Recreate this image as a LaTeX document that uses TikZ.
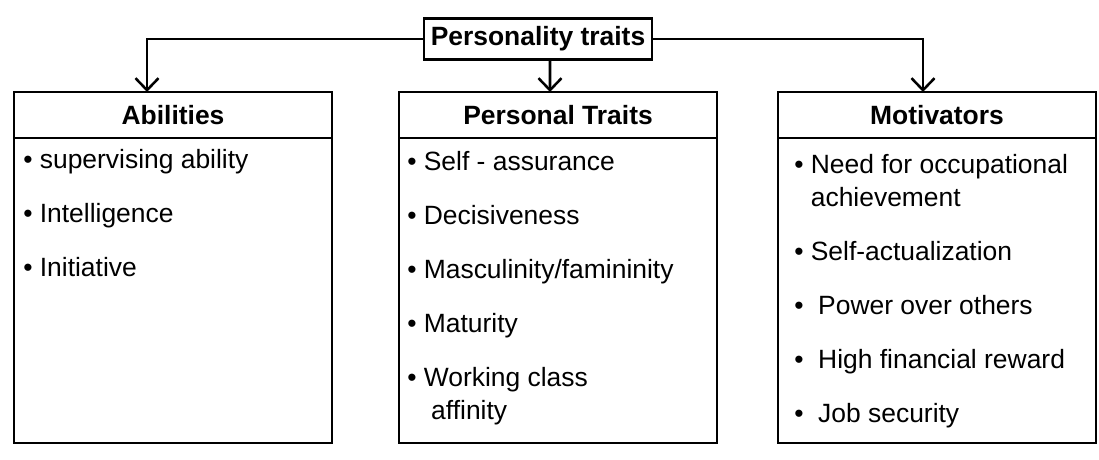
\documentclass[tikz,border=0pt]{standalone}
\usepackage{fontspec}
\setmainfont{Liberation Sans}
\usetikzlibrary{arrows.meta}
\begin{document}
\begin{tikzpicture}[
    font=\fontsize{18.8}{23.5}\selectfont,
    frame/.style={shape=rectangle, draw, line width=1.8pt, inner sep=0, outer sep=0, minimum width=7.95cm},
    headbox/.style={frame, minimum height=1.15cm, font=\fontsize{18.8}{23.5}\selectfont\bfseries},
    bodybox/.style={frame, minimum height=7.625cm},
    itemtext/.style={anchor=north west, align=left, inner sep=0},
    wire/.style={line width=1.8pt, -{Straight Barb[length=0.3cm, width=0.575cm]}}]
  % Boxes, lists and wires:
  \useasboundingbox (0, 0) rectangle (27.475, 11.475);
  \node[headbox, minimum width=5.7cm, minimum height=1.025cm] (traits) at (13.45, 10.5) {Personality traits};
  \node[headbox] (abilhead) at (4.325, 8.6) {Abilities};
  \node[bodybox, anchor=north] (abilbody) at (abilhead.south) {};
  \node[headbox] (pershead) at (13.95, 8.6) {Personal Traits};
  \node[bodybox, anchor=north] (persbody) at (pershead.south) {};
  \node[headbox] (motihead) at (23.425, 8.6) {Motivators};
  \node[bodybox, anchor=north] (motibody) at (motihead.south) {};
  \node[itemtext] (abilitems) at ([xshift=0.225cm, yshift=-0.175cm]abilbody.north west)
    {\strut• supervising ability\\[15pt]• Intelligence\\[15pt]• Initiative};
  \node[itemtext] (persitems) at ([xshift=0.2cm, yshift=-0.225cm]persbody.north west)
    {\strut• Self - assurance\\[15pt]• Decisiveness\\[15pt]• Masculinity/famininity\\[15pt]• Maturity\\[15pt]• Working class\\ \phantom{•\ \ }affinity};
  \node[itemtext] (motiitems) at ([xshift=0.4cm, yshift=-0.3cm]motibody.north west)
    {\strut• Need for occupational\\ \phantom{• }achievement\\[15pt]• Self-actualization\\[15pt]•\ \ Power over others\\[15pt]•\ \ High financial reward\\[15pt]•\ \ Job security};
  \draw[wire] (traits.west) -| ([xshift=-0.65cm]abilhead.north);
  \draw[wire] ([xshift=0.3cm]traits.south) -- ([xshift=-0.2cm]pershead.north);
  \draw[wire] (traits.east) -| ([xshift=-0.35cm]motihead.north);
\end{tikzpicture}
\end{document}
